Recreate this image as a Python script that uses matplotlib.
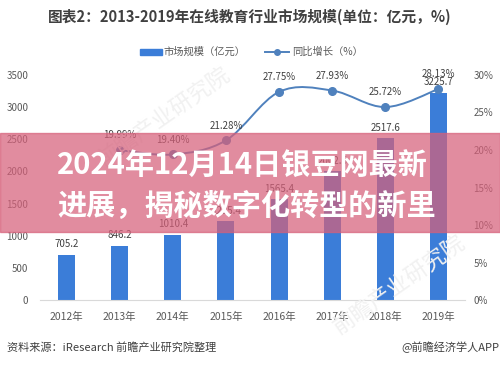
import matplotlib
matplotlib.use("Agg")
import matplotlib.pyplot as plt
from matplotlib.path import Path
from matplotlib.patches import PathPatch, Rectangle
import numpy as np

plt.rcParams['font.family'] = ['Noto Sans CJK SC', 'DejaVu Sans']

years = ['2012年', '2013年', '2014年', '2015年', '2016年', '2017年', '2018年', '2019年']
market = [705.2, 846.2, 1010.4, 1225.4, 1565.4, 2002.6, 2517.6, 3225.7]
growth = [None, 19.99, 19.40, 21.28, 27.75, 27.93, 25.72, 28.13]
left_ticks = [0, 500, 1000, 1500, 2000, 2500, 3000, 3500]
right_ticks = [0, 5, 10, 15, 20, 25, 30]

title = '图表2：2013-2019年在线教育行业市场规模(单位：亿元，%)'
legend_bar = '市场规模（亿元）'
legend_line = '同比增长（%）'
source = '资料来源：iResearch 前瞻产业研究院整理'
credit = '@前瞻经济学人APP'
banner_lines = ['2024年12月14日银豆网最新', '进展，揭秘数字化转型的新里']

BAR = '#3b7dd8'
LINE = '#4f81bd'
GRAY = '#595959'

fig = plt.figure(figsize=(5.0, 3.66), dpi=100)
ax = fig.add_axes([0.08, 0.1803, 0.85, 0.6148])
x = np.arange(len(years))
ax.bar(x, market, width=0.32, color=BAR, zorder=2)
ax.set_xlim(-0.5, len(years) - 0.5)
ax.set_ylim(0, 3500)
ax.set_yticks(left_ticks)
ax.set_yticklabels([str(v) for v in left_ticks])
ax.set_xticks(x)
ax.set_xticklabels(years)
ax.tick_params(axis='both', length=0, labelsize=7, colors=GRAY)
ax.tick_params(axis='y', pad=8.5)
ax.tick_params(axis='x', pad=8.5, labelsize=7.5)
for s in ['top', 'right', 'left']:
    ax.spines[s].set_visible(False)
ax.spines['bottom'].set_color('#d9d9d9')
ax.spines['bottom'].set_linewidth(0.8)
for xi, v in zip(x, market):
    ax.annotate(f'{v:.1f}', (xi, v), xytext=(0, 4), textcoords='offset points',
                ha='center', va='bottom', fontsize=7, color='#404040', zorder=5)

ax2 = ax.twinx()
ax2.set_ylim(0, 30)
ax2.set_yticks(right_ticks)
ax2.set_yticklabels([f'{v}%' for v in right_ticks])
ax2.tick_params(axis='y', length=0, labelsize=7, colors=GRAY, pad=6)
for s in ['top', 'right', 'left', 'bottom']:
    ax2.spines[s].set_visible(False)

gx = [xi for xi, g in zip(x, growth) if g is not None]
gy = [g for g in growth if g is not None]
pts = np.column_stack([gx, gy]).astype(float)
verts = [tuple(pts[0])]
codes = [Path.MOVETO]
n = len(pts)
for i in range(n - 1):
    p0 = pts[i - 1] if i > 0 else pts[i]
    p1 = pts[i]
    p2 = pts[i + 1]
    p3 = pts[i + 2] if i + 2 < n else pts[i + 1]
    c1 = p1 + (p2 - p0) / 6.0
    c2 = p2 - (p3 - p1) / 6.0
    verts += [tuple(c1), tuple(c2), tuple(p2)]
    codes += [Path.CURVE4] * 3
ax2.add_patch(PathPatch(Path(verts, codes), fill=False, edgecolor=LINE, lw=1.4, zorder=3))
ax2.plot(gx, gy, 'o', color=LINE, ms=5.5, zorder=4)
for xi, g in zip(gx, gy):
    ax2.annotate(f'{g:.2f}%', (xi, g), xytext=(0, 7), textcoords='offset points',
                 ha='center', va='bottom', fontsize=7, color='#404040', zorder=5)

# title, legend, footer
fig.text(0.5, 1 - 17 / 366, title, ha='center', va='center', fontsize=10.6,
         fontweight='bold', color='#404040')
fig.patches.append(Rectangle((140 / 500, 1 - 54.5 / 366), 22 / 500, 5 / 366,
                             transform=fig.transFigure, color=BAR))
fig.text(163 / 500, 1 - 52 / 366, legend_bar, ha='left', va='center', fontsize=7.4, color=GRAY)
fig.lines.append(plt.Line2D([265 / 500, 289 / 500], [1 - 52 / 366, 1 - 52 / 366],
                            transform=fig.transFigure, color=LINE, lw=1.4))
fig.lines.append(plt.Line2D([277 / 500], [1 - 52 / 366], transform=fig.transFigure,
                            color=LINE, marker='o', ms=4))
fig.text(292 / 500, 1 - 52 / 366, legend_line, ha='left', va='center', fontsize=7.4, color=GRAY)
fig.text(7 / 500, 1 - 347 / 366, source, ha='left', va='center', fontsize=8, color='#404040')
fig.text(499 / 500, 1 - 347 / 366, credit, ha='right', va='center', fontsize=8, color='#404040')

# very faint watermark
fig.text(0.33, 0.68, '前瞻产业研究院', rotation=35, fontsize=16, color='#f1f1f1',
         ha='center', va='center', zorder=0)
fig.text(0.80, 0.22, '前瞻产业研究院', rotation=35, fontsize=16, color='#f1f1f1',
         ha='center', va='center', zorder=0)

# banner overlay
fig.patches.append(Rectangle((0, 1 - 232 / 366), 1, 99 / 366, transform=fig.transFigure,
                             color='#d6607a', alpha=0.72, zorder=10))
fig.text(57 / 500, 1 - 166 / 366, banner_lines[0], ha='left', va='center', fontsize=21,
         fontweight='bold', color='white', zorder=11)
fig.text(57 / 500, 1 - 206 / 366, banner_lines[1], ha='left', va='center', fontsize=21,
         fontweight='bold', color='white', zorder=11)

fig.savefig('out.png', dpi=100)
